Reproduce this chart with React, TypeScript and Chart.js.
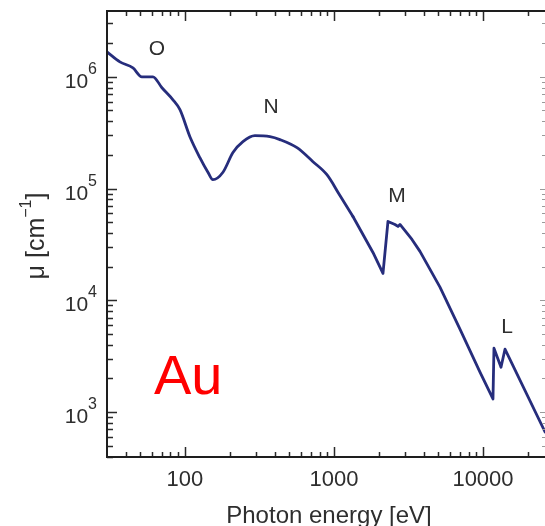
import { useEffect, useRef } from 'react';
import { Chart, registerables } from 'chart.js';

Chart.register(...registerables);

// Linear absorption coefficient of gold vs photon energy
const energyEv = [
  30, 36.6, 44.8, 51.4, 61, 70.1, 83.1, 92.6, 108, 126, 143, 154, 180, 210, 245, 295, 372, 434,
  565, 723, 897, 1097, 1341, 1827, 2133, 2304, 2567, 2689, 2773, 3138, 3338, 3777, 5145, 7007,
  9548, 11670, 11850, 13210, 14050, 26080,
];
const muPerCm = [
  1.67e6, 1.36e6, 1.2e6, 1.0e6, 1.0e6, 7.98e5, 6.23e5, 5.08e5, 2.91e5, 1.89e5, 1.39e5, 1.2e5,
  1.4e5, 2.1e5, 2.63e5, 2.97e5, 2.91e5, 2.74e5, 2.32e5, 1.74e5, 1.33e5, 8.66e4, 5.62e4, 2.68e4,
  1.74e4, 5.08e4, 4.77e4, 4.58e4, 4.77e4, 3.88e4, 3.5e4, 2.74e4, 1.31e4, 5.51e3, 2.28e3, 1.31e3,
  3.73e3, 2.52e3, 3.65e3, 663,
];
// the smooth N-shell hump is drawn curved; above this energy the trace is straight segments
const SMOOTH_UNTIL_EV = 1341;

// Absorption edge shells, placed at (energy, mu)
const edgeNames = ['O', 'N', 'M', 'L'];
const edgeLabelEnergy = [64.9, 378, 2648, 14490];
const edgeLabelMu = [1.75e6, 5.4e5, 8.5e4, 5.7e3];

const xTickValues = [100, 1000, 10000];
const xTickLabels = ['100', '1000', '10000'];
const yTickExponents = [3, 4, 5, 6];

const X_MIN = 30;
const X_MAX = 26070;
const Y_MIN = 396;
const Y_MAX = 3.88e6;

const FONT = '"Liberation Sans", Arial, Helvetica, sans-serif';
const TEXT = '#2e2e2e';
const LINE = '#262d7c';

function decadeTicks(min: number, max: number): { v: number; major: boolean }[] {
  const out: { v: number; major: boolean }[] = [];
  const e0 = Math.floor(Math.log10(min));
  const e1 = Math.ceil(Math.log10(max));
  for (let e = e0; e <= e1; e++) {
    for (let m = 1; m <= 9; m++) {
      const v = m * Math.pow(10, e);
      if (v > min * 1.0001 && v < max * 0.9999) out.push({ v, major: m === 1 });
    }
  }
  return out;
}

const framePlugin = {
  id: 'auFrame',
  afterDraw(chart: any) {
    const { ctx, chartArea: a, scales } = chart;
    const xs = scales.x;
    const ys = scales.y;
    ctx.save();

    // inward tick marks
    ctx.strokeStyle = '#2a2a2a';
    ctx.lineWidth = 1.5;
    ctx.beginPath();
    for (const t of decadeTicks(X_MIN, X_MAX)) {
      const px = Math.round(xs.getPixelForValue(t.v)) + 0.5;
      const len = t.major ? 10 : 5;
      ctx.moveTo(px, a.bottom);
      ctx.lineTo(px, a.bottom - len);
      ctx.moveTo(px, a.top);
      ctx.lineTo(px, a.top + len);
    }
    for (const t of decadeTicks(Y_MIN, Y_MAX)) {
      const py = Math.round(ys.getPixelForValue(t.v)) + 0.5;
      const len = t.major ? 10 : 6;
      ctx.moveTo(a.left, py);
      ctx.lineTo(a.left + len, py);
    }
    ctx.stroke();

    ctx.strokeStyle = '#9a9a9a';
    ctx.lineWidth = 1;
    ctx.beginPath();
    for (const t of decadeTicks(Y_MIN, Y_MAX)) {
      const py = Math.round(ys.getPixelForValue(t.v)) + 0.5;
      const len = t.major ? 5 : 3;
      ctx.moveTo(a.right, py);
      ctx.lineTo(a.right - len, py);
    }
    ctx.stroke();

    // frame (left, top, bottom)
    ctx.strokeStyle = '#1e1e1e';
    ctx.lineWidth = 2;
    ctx.beginPath();
    ctx.moveTo(a.right, a.top);
    ctx.lineTo(a.left, a.top);
    ctx.lineTo(a.left, a.bottom);
    ctx.lineTo(a.right, a.bottom);
    ctx.stroke();

    ctx.fillStyle = TEXT;

    // x tick labels
    ctx.font = `22px ${FONT}`;
    ctx.textAlign = 'center';
    ctx.textBaseline = 'alphabetic';
    xTickValues.forEach((v, i) => {
      ctx.fillText(xTickLabels[i], xs.getPixelForValue(v), a.bottom + 29);
    });

    // y tick labels: 10 with superscript exponent
    yTickExponents.forEach((e) => {
      const py = ys.getPixelForValue(Math.pow(10, e));
      const exp = String(e);
      ctx.font = `16px ${FONT}`;
      const ew = ctx.measureText(exp).width;
      const right = a.left - 10;
      ctx.textAlign = 'left';
      ctx.fillText(exp, right - ew, py - 3);
      ctx.font = `21px ${FONT}`;
      ctx.textAlign = 'right';
      ctx.fillText('10', right - ew, py + 11);
    });

    // x title
    ctx.font = `24px ${FONT}`;
    ctx.textAlign = 'center';
    ctx.fillText('Photon energy [eV]', 329, a.bottom + 66);

    // y title, rotated
    ctx.save();
    ctx.translate(35, 236);
    ctx.rotate(-Math.PI / 2);
    ctx.textAlign = 'left';
    ctx.font = `25px ${FONT}`;
    const p1 = 'μ [cm';
    const p3 = ']';
    const w1 = ctx.measureText(p1).width;
    const w3 = ctx.measureText(p3).width;
    ctx.font = `16px ${FONT}`;
    const p2 = '−1';
    const w2 = ctx.measureText(p2).width;
    let u = -(w1 + w2 + w3) / 2;
    ctx.font = `25px ${FONT}`;
    ctx.fillText(p1, u, 9);
    u += w1;
    ctx.font = `16px ${FONT}`;
    ctx.fillText(p2, u, -4);
    u += w2;
    ctx.font = `25px ${FONT}`;
    ctx.fillText(p3, u, 9);
    ctx.restore();

    // shell labels
    ctx.font = `21px ${FONT}`;
    ctx.textAlign = 'center';
    ctx.textBaseline = 'middle';
    edgeNames.forEach((name, i) => {
      ctx.fillText(name, xs.getPixelForValue(edgeLabelEnergy[i]), ys.getPixelForValue(edgeLabelMu[i]));
    });

    // element symbol
    ctx.fillStyle = '#ff0000';
    ctx.font = `56px ${FONT}`;
    ctx.textAlign = 'left';
    ctx.textBaseline = 'alphabetic';
    ctx.fillText('Au', 154, 394);

    ctx.restore();
  },
};

export default function App() {
  const ref = useRef<HTMLCanvasElement | null>(null);

  useEffect(() => {
    if (!ref.current) return;
    const points = energyEv.map((x, i) => ({ x, y: muPerCm[i] }));
    const lowPart = points.filter((p) => p.x <= SMOOTH_UNTIL_EV);
    const highPart = points.filter((p) => p.x >= SMOOTH_UNTIL_EV);
    const common = {
      borderColor: LINE,
      borderWidth: 2.8,
      pointRadius: 0,
      borderJoinStyle: 'round' as const,
      borderCapStyle: 'round' as const,
      fill: false,
    };
    const chart = new Chart(ref.current, {
      type: 'line',
      data: {
        datasets: [
          { ...common, data: lowPart, cubicInterpolationMode: 'monotone' },
          { ...common, data: highPart, tension: 0 },
        ],
      },
      options: {
        animation: false,
        responsive: false,
        parsing: false as any,
        layout: { padding: { left: 107, top: 11, right: 0, bottom: 69 } },
        plugins: { legend: { display: false }, tooltip: { enabled: false } },
        scales: {
          x: { type: 'logarithmic', min: X_MIN, max: X_MAX, display: false },
          y: { type: 'logarithmic', min: Y_MIN, max: Y_MAX, display: false },
        },
      },
      plugins: [framePlugin],
    });
    return () => chart.destroy();
  }, []);

  return (
    <div style={{ position: 'fixed', left: 0, top: 0, width: 545, height: 526, background: '#fff' }}>
      <canvas ref={ref} width={545} height={526} style={{ display: 'block', width: 545, height: 526 }} />
    </div>
  );
}
